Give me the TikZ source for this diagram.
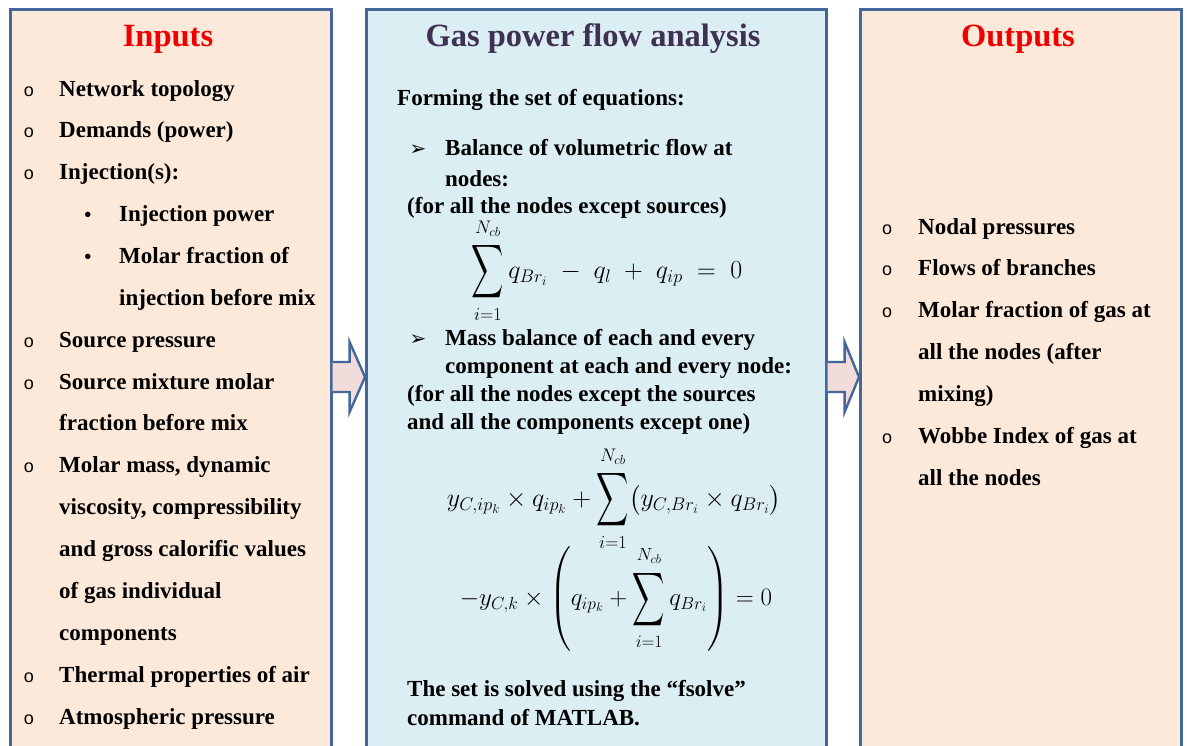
\documentclass[tikz,border=0pt]{standalone}
\usepackage{fix-cm}
\usepackage{amsmath}
\usepackage{graphicx}
\usepackage{fontspec}
\usetikzlibrary{calc}
\setmainfont{Liberation Serif}
\newfontfamily\dejavu{DejaVu Sans}
\newfontfamily\bulfont{Liberation Sans}
\definecolor{peach}{HTML}{FDE9DA}
\definecolor{paleblue}{HTML}{DBEEF4}
\definecolor{frame}{HTML}{44679B}
\definecolor{titlered}{HTML}{EE0000}
\definecolor{titlepurple}{HTML}{3F3151}
\definecolor{arrowfill}{HTML}{F2DCDB}
\newcommand{\bigsum}{\mathop{\vcenter{\hbox{\raisebox{0pt}[\dimexpr\height+3pt\relax][\dimexpr\depth+3pt\relax]{\scalebox{0.9}[1.5]{$\displaystyle\sum$}}}}}\limits}
\tikzset{
  panel/.style={draw=frame, line width=2.6pt, anchor=north west, inner sep=0pt},
  ttl/.style={font=\fontsize{32.5}{36}\selectfont\bfseries, anchor=base, inner sep=0pt},
  txt/.style={font=\fontsize{23}{28}\selectfont\bfseries, anchor=base west, inner sep=0pt},
  bul/.style={font=\bulfont\fontsize{18}{20}\selectfont, anchor=base, inner sep=0pt},
  dot/.style={font=\fontsize{20}{24}\selectfont\bfseries, anchor=base, inner sep=0pt},
  arr/.style={font=\dejavu\fontsize{20}{24}\selectfont, anchor=base, inner sep=0pt},
  eq/.style={font=\fontsize{26}{30}\selectfont, anchor=center, inner sep=0pt},
  blockarrow/.style={draw=frame, line width=2.4pt, fill=arrowfill, line join=miter}
}
\begin{document}
\begin{tikzpicture}[x=1pt,y=-1pt]
\useasboundingbox (0,0) rectangle (1187,745);
\fill[white] (0,0) rectangle (1187,745);
% panels
\node[panel, fill=peach, minimum width=321pt, minimum height=780pt] (L) at (9,8) {};
\node[panel, fill=paleblue, minimum width=460pt, minimum height=780pt] (M) at (365,8) {};
\node[panel, fill=peach, minimum width=321pt, minimum height=780pt] (R) at (859,8) {};
% block arrows
\coordinate (a1) at (L.east |- 0,377);
\coordinate (a2) at (M.west |- 0,377);
\draw[blockarrow] ($(a1)+(0,-15)$) -- ++(17,0) -- ++(0,-20) -- (a2) -- ($(a1)+(17,35)$) -- ++(0,-20) -- ($(a1)+(0,15)$);
\coordinate (b1) at (M.east |- 0,377);
\coordinate (b2) at (R.west |- 0,377);
\draw[blockarrow] ($(b1)+(0,-15)$) -- ++(17,0) -- ++(0,-20) -- (b2) -- ($(b1)+(17,35)$) -- ++(0,-20) -- ($(b1)+(0,15)$);
% titles
\node[ttl, text=titlered] (tI) at (168,46) {Inputs};
\node[ttl, text=titlepurple] (tM) at (593,46) {Gas power flow analysis};
\node[ttl, text=titlered] (tO) at (1018,46) {Outputs};
% inputs
\foreach \y/\t in {96/Network topology, 137.5/Demands (power), 179.5/Injection(s):, 347/Source pressure, 389/Source mixture molar, 472.5/{Molar mass, dynamic}, 682/Thermal properties of air, 724/Atmospheric pressure}{
  \node[bul] at (29,\y) {o};
  \node[txt] at (59,\y) {\t};
}
\foreach \y/\t in {430.5/fraction before mix, 514.5/{viscosity, compressibility}, 556/and gross calorific values, 598/of gas individual, 640/components}{
  \node[txt] at (59,\y) {\t};
}
\node[dot] at (88,221.5) {•};
\node[txt] at (119,221.5) {Injection power};
\node[dot] at (88,263) {•};
\node[txt] at (119,263) {Molar fraction of};
\node[txt] at (119,305) {injection before mix};
% outputs
\foreach \y/\t in {234/Nodal pressures, 275.5/Flows of branches, 317.5/Molar fraction of gas at, 443.5/Wobbe Index of gas at}{
  \node[bul] at (887,\y) {o};
  \node[txt] at (918,\y) {\t};
}
\foreach \y/\t in {359.5/all the nodes (after, 401/mixing), 485/all the nodes}{
  \node[txt] at (918,\y) {\t};
}
% middle
\node[txt] (form) at (397,105) {Forming the set of equations:};
\node[arr] at (418,155) {➢};
\node[txt] at (445,155) {Balance of volumetric flow at};
\node[txt] at (445,186) {nodes:};
\node[txt] at (407,213.5) {(for all the nodes except sources)};
\node[eq] (eqA) at (607,271) {$\displaystyle \bigsum_{i=1}^{N_{cb}} q_{Br_i} \;-\; q_l \;+\; q_{ip} \;=\; 0$};
\node[arr] at (418,345) {➢};
\node[txt] at (445,345) {Mass balance of each and every};
\node[txt] at (445,373.5) {component at each and every node:};
\node[txt] at (407,401.5) {(for all the nodes except the sources};
\node[txt] at (407,429.5) {and all the components except one)};
\node[eq] (eqB) at (614,499) {$\displaystyle y_{C,ip_k}\times q_{ip_k} + \bigsum_{i=1}^{N_{cb}}\bigl(y_{C,Br_i}\times q_{Br_i}\bigr)$};
\node[eq, font=\fontsize{25}{30}\selectfont] (eqC) at (616,599) {$\displaystyle -y_{C,k}\times\left(q_{ip_k} + \bigsum_{i=1}^{N_{cb}} q_{Br_i}\right) = 0$};
\node[txt] at (407,696.5) {The set is solved using the “fsolve”};
\node[txt] at (407,725) {command of MATLAB.};
\end{tikzpicture}
\end{document}
